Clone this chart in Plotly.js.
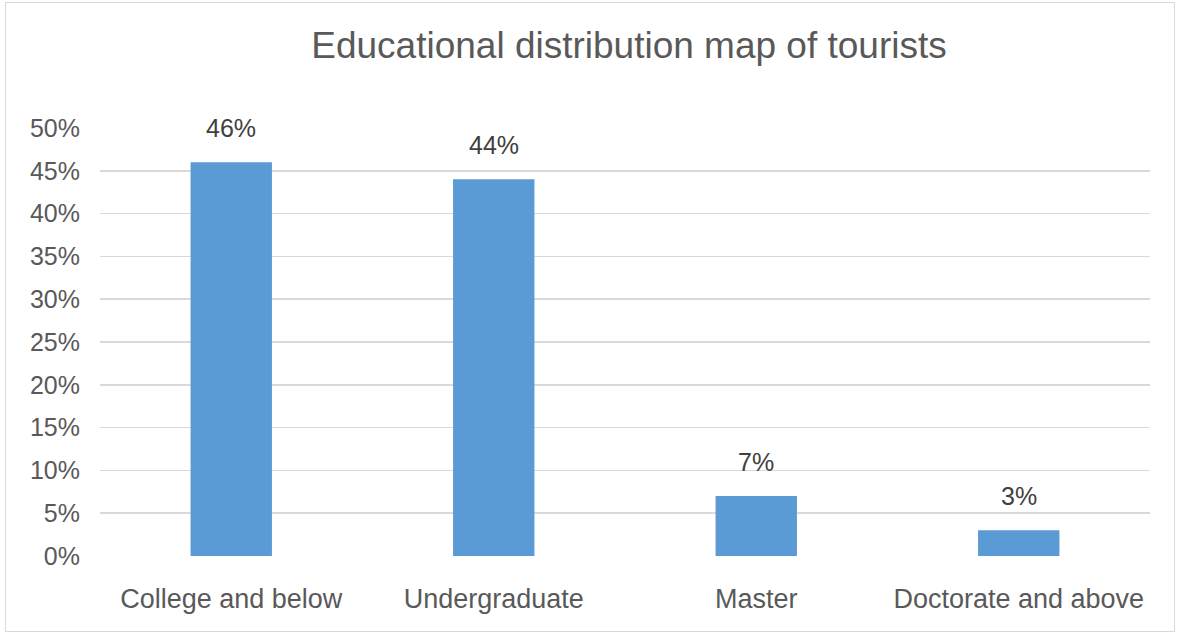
<!DOCTYPE html>
<html>
<head>
<meta charset="utf-8">
<script src="https://cdn.plot.ly/plotly-3.0.1.min.js"></script>
<style>
  html, body { margin: 0; padding: 0; background: #fff; }
  #wrap { position: relative; width: 1181px; height: 634px; }
  #chart { width: 1181px; height: 634px; }
  #frame { position: absolute; left: 5px; top: 2px; width: 1168px; height: 628px; border: 1px solid #d9d9d9; pointer-events: none; }
</style>
</head>
<body>
<div id="wrap">
  <div id="chart"></div>
  <div id="frame"></div>
</div>
<script>
const categories = ["College and below", "Undergraduate", "Master", "Doctorate and above"];
const shares = [0.46, 0.44, 0.07, 0.03];
const labels = ["46%", "44%", "7%", "3%"];
const tickValues = [0, 0.05, 0.10, 0.15, 0.20, 0.25, 0.30, 0.35, 0.40, 0.45, 0.50];
const tickLabels = ["0%", "5%", "10%", "15%", "20%", "25%", "30%", "35%", "40%", "45%", "50%"];

const font = "Liberation Sans, Arial, sans-serif";

const trace = {
  type: "bar",
  x: categories,
  y: shares,
  marker: { color: "#5b9bd5" },
  hoverinfo: "skip"
};

const annotations = categories.map((c, i) => ({
  x: c, y: shares[i], xref: "x", yref: "y",
  text: labels[i], showarrow: false,
  yanchor: "middle", yshift: 34,
  font: { family: font, size: 25, color: "#404040" }
}));

const layout = {
  width: 1181, height: 634,
  margin: { l: 100, r: 31, t: 128, b: 78 },
  paper_bgcolor: "#fff", plot_bgcolor: "#fff",
  showlegend: false,
  bargap: 0.69,
  title: {
    text: "Educational distribution map of tourists",
    x: 629 / 1181, xref: "container", xanchor: "center",
    y: 1 - 45 / 634, yref: "container", yanchor: "middle",
    font: { family: font, size: 37, color: "#595959" }
  },
  xaxis: {
    type: "category",
    showgrid: false, zeroline: false, showline: false,
    ticks: "", ticklabelstandoff: 24,
    tickfont: { family: font, size: 27, color: "#595959" }
  },
  yaxis: {
    range: [0, 0.5],
    tickvals: tickValues, ticktext: tickLabels,
    showgrid: true, gridcolor: "#d9d9d9", gridwidth: 1.5,
    zeroline: false, showline: false, ticks: "",
    ticklabelstandoff: 19,
    tickfont: { family: font, size: 25, color: "#595959" }
  },
  annotations: annotations
};

Plotly.newPlot("chart", [trace], layout, { displayModeBar: false, staticPlot: true });
</script>
</body>
</html>
